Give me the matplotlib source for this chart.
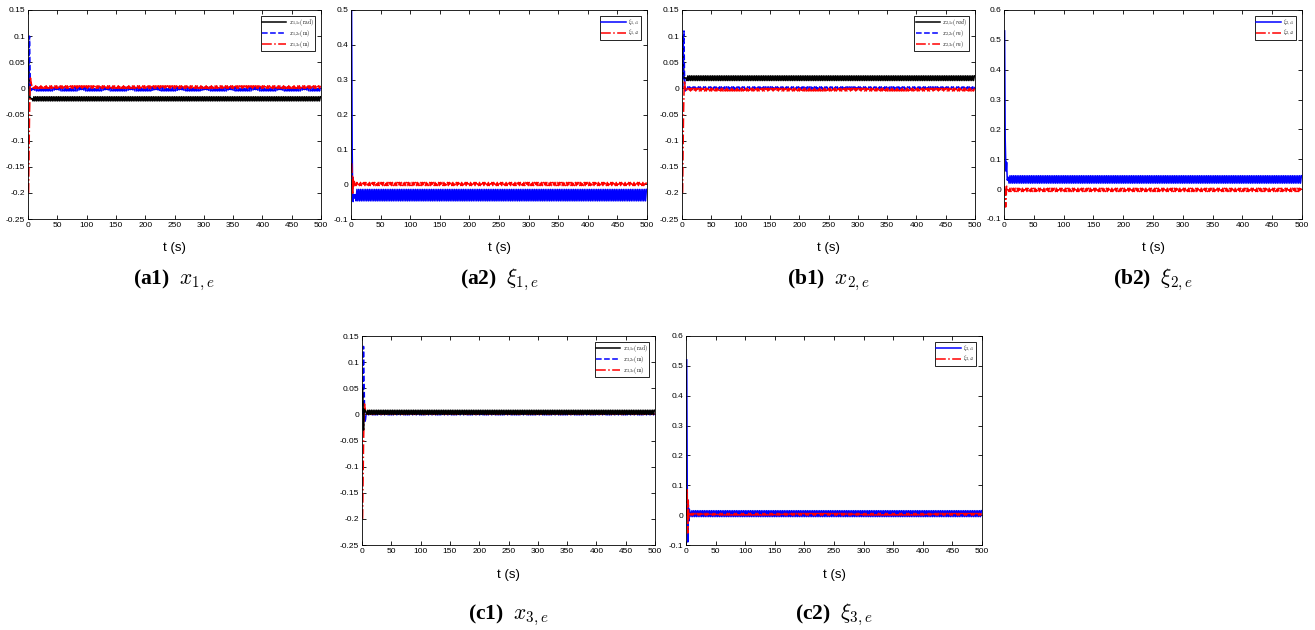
import numpy as np
import matplotlib
matplotlib.use("Agg")
import matplotlib.pyplot as plt

plt.rcParams['font.family'] = ['Liberation Sans', 'DejaVu Sans']
plt.rcParams['mathtext.fontset'] = 'cm'

T_END = 500
HALF_STEP = 1.5  # spacing of the steady-state oscillation samples (s)

# ---- (a1) x_{1,e}
a1_t = [1, 1.8, 2.6, 3.4, 4.2, 5.5, 7]
a1_x11 = [0.05, 0.03, -0.005, -0.02, -0.018, -0.02, -0.02]
a1_x12 = [0.0, 0.06, 0.10, 0.04, 0.0, -0.004, 0.0]
a1_x13 = [-0.20, -0.12, -0.05, -0.01, 0.02, 0.01, 0.003]
a1_x11_band = [-0.024, -0.016]
a1_x12_band = [-0.005, 0.002]
a1_x13_band = [0.0, 0.005]

# ---- (a2) xi_{1,e}
a2_t = [1, 1.5, 2, 2.8, 3.6, 4.4, 5.5, 7]
a2_xi1 = [0.50, 0.30, 0.10, -0.02, -0.05, -0.03, -0.04, -0.03]
a2_xi2 = [0.06, 0.04, 0.02, -0.03, 0.02, -0.01, 0.008, 0.0]
a2_xi1_band = [-0.048, -0.015]
a2_xi2_band = [-0.004, 0.005]

# ---- (b1) x_{2,e}
b1_t = [1, 1.8, 2.6, 3.4, 4.2, 5.5, 7]
b1_x21 = [0.0, 0.10, 0.05, 0.02, 0.018, 0.02, 0.02]
b1_x22 = [0.0, 0.05, 0.10, 0.11, 0.03, -0.005, 0.0]
b1_x23 = [-0.20, -0.12, -0.05, -0.01, 0.015, 0.0, -0.002]
b1_x21_band = [0.015, 0.024]
b1_x22_band = [-0.002, 0.003]
b1_x23_band = [-0.005, 0.0]

# ---- (b2) xi_{2,e}
b2_t = [1, 1.5, 2, 2.8, 3.6, 4.4, 5.5, 7]
b2_xi1 = [0.53, 0.35, 0.17, 0.10, 0.06, 0.09, 0.03, 0.04]
b2_xi1_band = [0.02, 0.045]
b2_xi2 = [0.01, 0.0, -0.02, -0.06, -0.03, 0.01, -0.005, 0.0]
b2_xi2_band = [-0.008, 0.003]

# ---- (c1) x_{3,e}
c1_t = [1, 1.8, 2.6, 3.4, 4.2, 5.5, 7]
c1_x31 = [0.05, 0.02, -0.03, 0.01, 0.005, 0.008, 0.004]
c1_x32 = [0.0, 0.06, 0.13, 0.08, 0.02, -0.015, 0.0]
c1_x33 = [-0.20, -0.13, -0.06, -0.01, 0.02, 0.01, 0.001]
c1_x31_band = [0.0, 0.008]
c1_x32_band = [-0.001, 0.002]
c1_x33_band = [0.0, 0.002]

# ---- (c2) xi_{3,e}
c2_t = [1.2, 1.7, 2.2, 3, 3.8, 4.6, 5.5, 7]
c2_xi1 = [0.52, 0.30, 0.05, -0.09, 0.05, -0.02, 0.02, 0.01]
c2_xi1_band = [-0.005, 0.015]
c2_xi2 = [0.0, 0.09, 0.05, -0.06, 0.05, -0.01, 0.01, 0.003]
c2_xi2_band = [0.0, 0.006]

X_TICKS = np.arange(0, 501, 50)


def series(t_tr, y_tr, band):
    # transient points followed by the steady-state band swept back and forth
    t_ss = np.arange(t_tr[-1] + HALF_STEP, T_END + 0.01, HALF_STEP)
    y_ss = np.resize(band, len(t_ss))
    return np.concatenate([t_tr, t_ss]), np.concatenate([y_tr, y_ss])


W, H = 1315, 630
fig = plt.figure(figsize=(W / 100, H / 100), dpi=100)


def make_axes(left, right, top, bottom):
    return fig.add_axes([left / W, 1 - bottom / H, (right - left) / W, (bottom - top) / H])


def style(ax, ylim, yticks, cx, xl_y, cap_y, tag, sym, order=None):
    ax.set_xlim(0, 500)
    ax.set_ylim(*ylim)
    ax.set_xticks(X_TICKS)
    ax.set_yticks(yticks)
    ax.set_yticklabels([('%g' % (v + 0.0)) if abs(v) > 1e-9 else '0' for v in yticks])
    ax.tick_params(direction='in', top=True, right=True, length=3, width=0.6,
                   labelsize=6, pad=2)
    for s in ax.spines.values():
        s.set_linewidth(0.6)
    fig.text(cx / W, 1 - xl_y / H, 't (s)', ha='center', va='center', fontsize=9.5)
    fig.text(cx / W, 1 - cap_y / H, tag + '  ' + sym, ha='center', va='center',
             fontsize=15.5, family='Liberation Serif', weight='bold')
    h, l = ax.get_legend_handles_labels()
    if order is not None:
        h = [h[i] for i in order]
        l = [l[i] for i in order]
    leg = ax.legend(h, l, loc='upper right', fontsize=4, handlelength=4.4,
                    labelspacing=0.05, borderpad=0.25, handletextpad=0.4,
                    fancybox=False, edgecolor='black', framealpha=1, borderaxespad=1.1)
    leg.get_frame().set_linewidth(0.6)


x_ticks_y = np.round(np.arange(-0.25, 0.151, 0.05), 2)
xi_a_ticks = np.round(np.arange(-0.1, 0.51, 0.1), 1)
xi_b_ticks = np.round(np.arange(-0.1, 0.61, 0.1), 1)
LW = 1.1

# (a1)
ax = make_axes(28, 321, 10, 219)
ax.plot(*series(a1_t, a1_x11, a1_x11_band), color='black', lw=LW, label=r'$x_{1,1e}(\mathrm{rad})$')
ax.plot(*series(a1_t, a1_x12, a1_x12_band), color='blue', ls='--', lw=LW, label=r'$x_{1,2e}(\mathrm{m})$')
ax.plot(*series(a1_t, a1_x13, a1_x13_band), color='red', ls='-.', lw=LW, label=r'$x_{1,3e}(\mathrm{m})$')
style(ax, (-0.25, 0.15), x_ticks_y, 174, 248, 280, '(a1)', r'$x_{1,e}$')

# (a2)
ax = make_axes(351, 647, 10, 219)
ax.plot(*series(a2_t, a2_xi1, a2_xi1_band), color='blue', lw=LW, label=r'$\xi_{1,e1}$')
ax.plot(*series(a2_t, a2_xi2, a2_xi2_band), color='red', ls='-.', lw=LW, label=r'$\xi_{1,e2}$')
style(ax, (-0.1, 0.5), xi_a_ticks, 499, 248, 280, '(a2)', r'$\xi_{1,e}$')

# (b1)
ax = make_axes(682, 975, 10, 219)
ax.plot(*series(b1_t, b1_x21, b1_x21_band), color='black', lw=LW, label=r'$x_{2,1e}(rad)$')
ax.plot(*series(b1_t, b1_x22, b1_x22_band), color='blue', ls='--', lw=LW, label=r'$x_{2,2e}(m)$')
ax.plot(*series(b1_t, b1_x23, b1_x23_band), color='red', ls='-.', lw=LW, label=r'$x_{2,3e}(m)$')
style(ax, (-0.25, 0.15), x_ticks_y, 828, 248, 280, '(b1)', r'$x_{2,e}$')

# (b2)
ax = make_axes(1004, 1302, 10, 219)
ax.plot(*series(b2_t, b2_xi1, b2_xi1_band), color='blue', lw=LW, label=r'$\xi_{2,e1}$')
ax.plot(*series(b2_t, b2_xi2, b2_xi2_band), color='red', ls='-.', lw=LW, label=r'$\xi_{2,e2}$')
style(ax, (-0.1, 0.6), xi_b_ticks, 1153, 248, 280, '(b2)', r'$\xi_{2,e}$')

# (c1) black drawn last so it sits on top, legend keeps black first
ax = make_axes(362, 655, 336, 545)
ax.plot(*series(c1_t, c1_x32, c1_x32_band), color='blue', ls='--', lw=LW, label=r'$x_{3,2e}(\mathrm{m})$')
ax.plot(*series(c1_t, c1_x33, c1_x33_band), color='red', ls='-.', lw=LW, label=r'$x_{3,3e}(\mathrm{m})$')
ax.plot(*series(c1_t, c1_x31, c1_x31_band), color='black', lw=LW, label=r'$x_{3,1e}(\mathrm{rad})$')
style(ax, (-0.25, 0.15), x_ticks_y, 508, 575, 615, '(c1)', r'$x_{3,e}$', order=[2, 0, 1])

# (c2)
ax = make_axes(686, 982, 336, 545)
ax.plot(*series(c2_t, c2_xi1, c2_xi1_band), color='blue', lw=LW, label=r'$\xi_{3,e1}$')
ax.plot(*series(c2_t, c2_xi2, c2_xi2_band), color='red', ls='-.', lw=LW, label=r'$\xi_{3,e2}$')
style(ax, (-0.1, 0.6), xi_b_ticks, 834, 575, 615, '(c2)', r'$\xi_{3,e}$')

fig.savefig('out.png', dpi=100)
